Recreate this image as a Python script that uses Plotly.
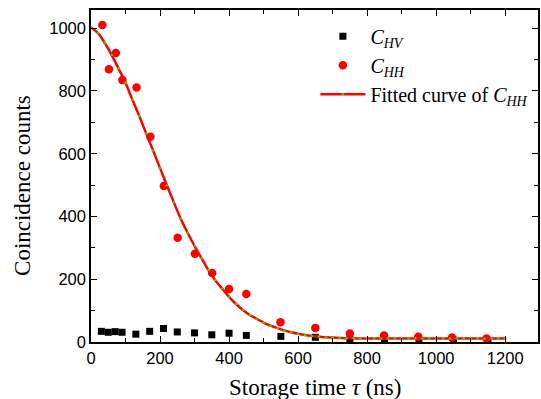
import plotly.graph_objects as go

# Storage time (ns) of measured points
T_HV = [30, 50, 70, 90, 130, 170, 210, 250, 300, 350, 400, 450, 550, 650, 750, 850, 950, 1050, 1150]
C_HV = [34, 31, 33, 31, 25, 34, 43, 32, 29, 23, 28, 21, 18, 15, 8, 7, 6, 6, 5]

T_HH = [33, 52, 72, 91, 132, 172, 211, 251, 301, 351, 400, 450, 549, 650, 750, 849, 948, 1046, 1146]
C_HH = [1010, 869, 921, 835, 811, 654, 497, 332, 281, 220, 169, 153, 63, 45, 27, 21, 17, 14, 11]

# Fitted curve of C_HH
FIT_T = [0, 20, 40, 60, 80, 100, 120, 140, 160, 180, 200, 220, 240, 260, 280, 300,
         320, 340, 360, 380, 400, 420, 440, 460, 480, 500, 520, 540, 560, 580, 600,
         620, 640, 660, 680, 700, 720, 740, 760, 780, 800, 820, 840, 860, 880, 900,
         920, 940, 960, 980, 1000, 1020, 1040, 1060, 1080, 1100, 1120, 1140, 1160, 1180, 1200]
FIT_C = [1002, 985, 953, 914, 871, 826, 772, 720, 664, 610, 554, 499, 445, 393, 348, 306,
         267, 229, 197, 170, 144, 121, 102, 86, 74, 62, 52, 44, 37, 31, 26,
         22, 19, 17, 15, 14, 13, 12, 12, 11, 11, 11, 11, 11, 11, 11,
         11, 11, 11, 11, 11, 11, 11, 11, 11, 11, 11, 11, 11, 11, 11]

X_TICKS = [0, 200, 400, 600, 800, 1000, 1200]
Y_TICKS = [0, 200, 400, 600, 800, 1000]

SERIF = "Liberation Serif, Times New Roman, serif"
SANS = "Liberation Sans, Arial, sans-serif"

fig = go.Figure()
fig.add_trace(go.Scatter(
    x=T_HV, y=C_HV, mode="markers", name="<i>C</i><sub><i>HV</i></sub>",
    marker=dict(symbol="square", size=7, color="black", line=dict(width=0)),
))
fig.add_trace(go.Scatter(
    x=T_HH, y=C_HH, mode="markers", name="<i>C</i><sub><i>HH</i></sub>",
    marker=dict(symbol="circle", size=8.5, color="#ff0000", line=dict(width=0)),
))
fig.add_trace(go.Scatter(
    x=FIT_T, y=FIT_C, mode="lines+markers", name="Fitted curve of <i>C</i><sub><i>HH</i></sub>",
    line=dict(color="#ff0000", width=2.5, shape="spline", smoothing=0.6),
    marker=dict(symbol="triangle-up", size=3.5, color="#33dd00", line=dict(width=0)),
))

axis_common = dict(
    showline=True, linecolor="black", linewidth=1.5, mirror="ticks",
    ticks="inside", ticklen=6, tickwidth=1.3, tickcolor="black",
    showgrid=False, zeroline=False,
    tickfont=dict(family=SANS, size=16.5, color="black"),
)

fig.update_xaxes(
    range=[0, 1295], tickvals=X_TICKS,
    minor=dict(dtick=100, tick0=0, ticks="inside", ticklen=4, tickwidth=1.3, tickcolor="black"),
    **axis_common,
)
fig.update_yaxes(
    range=[0, 1058], tickvals=Y_TICKS,
    minor=dict(dtick=100, tick0=0, ticks="inside", ticklen=4, tickwidth=1.3, tickcolor="black"),
    **axis_common,
)

fig.add_annotation(
    text="Storage time <i>τ</i> (ns)", xref="paper", yref="paper",
    x=0.5, y=0, yshift=-45, xanchor="center", yanchor="middle", showarrow=False,
    font=dict(family=SERIF, size=23, color="black"),
)
fig.add_annotation(
    text="Coincidence counts", xref="paper", yref="paper", textangle=-90,
    x=0, y=0.47, xshift=-68, xanchor="center", yanchor="middle", showarrow=False,
    font=dict(family=SERIF, size=23, color="black"),
)

fig.update_layout(
    width=541, height=399,
    margin=dict(l=91, r=1, t=10, b=57),
    paper_bgcolor="white", plot_bgcolor="white",
    showlegend=True,
    legend=dict(
        x=0.502, y=0.98, xanchor="left", yanchor="top",
        bgcolor="rgba(0,0,0,0)", borderwidth=0,
        font=dict(family=SERIF, size=20, color="black"),
        itemwidth=45, tracegroupgap=0,
    ),
)

fig.write_html("out.html")
